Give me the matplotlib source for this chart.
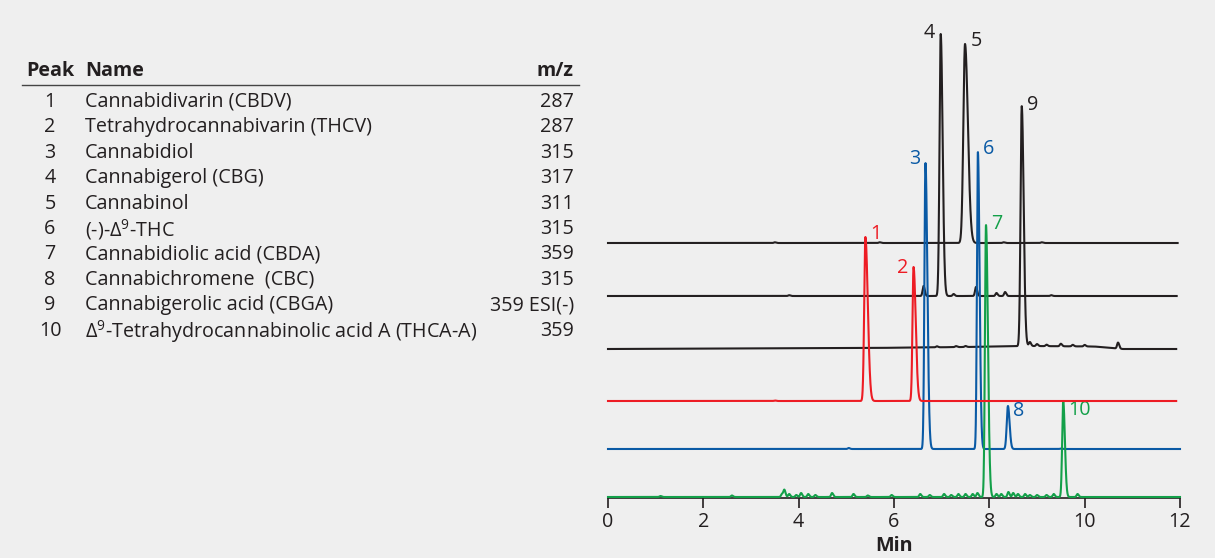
import numpy as np
import matplotlib
matplotlib.use("Agg")
import matplotlib.pyplot as plt
from matplotlib.lines import Line2D

plt.rcParams['font.family'] = ['Open Sans', 'DejaVu Sans']
plt.rcParams['mathtext.fontset'] = 'custom'
plt.rcParams['mathtext.rm'] = 'Open Sans'
plt.rcParams['mathtext.it'] = 'Open Sans:italic'
plt.rcParams['mathtext.bf'] = 'Open Sans:bold'

# ---------------- data ----------------
peak_nums = ["1", "2", "3", "4", "5", "6", "7", "8", "9", "10"]
peak_names = ["Cannabidivarin (CBDV)", "Tetrahydrocannabivarin (THCV)", "Cannabidiol",
              "Cannabigerol (CBG)", "Cannabinol", "(-)-Δ$^{9}$-THC", "Cannabidiolic acid (CBDA)",
              "Cannabichromene  (CBC)", "Cannabigerolic acid (CBGA)",
              "Δ$^{9}$-Tetrahydrocannabinolic acid A (THCA-A)"]
peak_mz = ["287", "287", "315", "317", "311", "315", "359", "315", "359 ESI(-)", "359"]

# traces: offset (baseline), main peaks (time, height, left sigma, right sigma), minor bumps
trace_colors = ["#231f20", "#231f20", "#231f20", "#ed1c24", "#0a5aa5", "#13a049"]
trace_offsets = [255, 202, 149, 97, 49, 1]
trace_end = [11.95, 11.93, 11.92, 11.92, 12.0, 12.0]

peaks_t1 = [(7.49, 199, 0.035, 0.06)]
peaks_t2 = [(6.98, 262, 0.025, 0.04)]
peaks_t3 = [(8.68, 240, 0.025, 0.04)]
peaks_red = [(5.40, 164, 0.025, 0.05), (6.41, 134, 0.022, 0.045)]
peaks_blue = [(6.66, 286, 0.022, 0.04), (7.76, 297, 0.02, 0.035), (8.39, 43, 0.025, 0.035)]
peaks_green = [(7.93, 272, 0.022, 0.04), (9.55, 96, 0.022, 0.035)]

bumps_t1 = [(3.5, 0.7), (5.7, 0.7), (8.3, 0.7), (9.1, 0.7)]
bumps_t2 = [(3.8, 0.8), (6.62, 10), (7.25, 2), (7.72, 9), (8.15, 3), (8.33, 4), (9.3, 0.8)]
bumps_t3 = [(6.9, 1), (7.3, 1), (7.5, 1), (8.85, 4), (9.0, 2), (9.2, 1.5), (9.5, 2.5),
            (9.75, 1.5), (10.0, 1.5), (10.7, 6)]
bumps_red = [(3.5, 0.5)]
bumps_blue = [(5.05, 1), (9.5, 0.5)]
bumps_green = [(1.1, 1), (2.6, 1.5), (3.65, 3), (3.7, 7), (3.8, 3), (3.95, 2), (4.05, 4),
               (4.2, 3), (4.35, 2), (4.7, 4), (5.15, 3), (5.45, 1.5), (5.95, 2), (6.55, 3),
               (6.75, 2), (7.05, 3), (7.2, 2), (7.35, 3), (7.5, 3), (7.65, 3), (7.75, 4),
               (8.15, 3), (8.25, 3), (8.4, 5), (8.5, 4), (8.6, 3), (8.75, 3), (8.85, 2),
               (9.0, 2), (9.2, 2), (9.35, 3), (9.85, 3)]

# baseline drift (time, level) for trace 3
drift_t3_t = [0, 5.5, 7.5, 8.8, 10.2, 10.8, 11.92]
drift_t3_v = [0, 1, 2, 3, 2.5, 0, 0]

trace_peaks = [peaks_t1, peaks_t2, peaks_t3, peaks_red, peaks_blue, peaks_green]
trace_bumps = [bumps_t1, bumps_t2, bumps_t3, bumps_red, bumps_blue, bumps_green]

labels = [("1", 5.50, 264, "#ed1c24", "left"), ("2", 6.30, 230, "#ed1c24", "right"),
          ("3", 6.56, 339, "#0a5aa5", "right"), ("4", 6.86, 465, "#231f20", "right"),
          ("5", 7.60, 457, "#231f20", "left"), ("6", 7.86, 349, "#0a5aa5", "left"),
          ("7", 8.03, 274, "#13a049", "left"), ("8", 8.50, 87, "#0a5aa5", "left"),
          ("9", 8.80, 393, "#231f20", "left"), ("10", 9.65, 88, "#13a049", "left")]

x_ticks = [0, 2, 4, 6, 8, 10, 12]

# ---------------- figure ----------------
W, H = 1215, 558
bg = "#efefef"
fig = plt.figure(figsize=(W / 100, H / 100), dpi=100, facecolor=bg)
ax = fig.add_axes([608 / W, 60 / H, 572 / W, 488 / H])
ax.set_facecolor(bg)


def shape(t, c, h, sl, sr):
    s = np.where(t < c, sl, sr)
    return h * np.exp(-0.5 * ((t - c) / s) ** 2)


for i in range(6):
    t = np.linspace(0, trace_end[i], 6000)
    y = np.full_like(t, float(trace_offsets[i]))
    for (c, h, sl, sr) in trace_peaks[i]:
        y += shape(t, c, h, sl, sr)
    for (c, h) in trace_bumps[i]:
        y += shape(t, c, h, 0.02, 0.025)
    if i == 2:
        y += np.interp(t, drift_t3_t, drift_t3_v)
    ax.plot(t, y, color=trace_colors[i], lw=1.5, solid_joinstyle="round", clip_on=False,
            zorder=3 + (1 if i in (3,) else 0))

fs = 14.2
for (txt, tx, ty, col, ha) in labels:
    ax.text(tx, ty, txt, color=col, fontsize=fs, ha=ha, va="center")

ax.set_xlim(0, 12)
ax.set_ylim(0, 488)
ax.set_xticks(x_ticks)
ax.set_xticklabels([str(v) for v in x_ticks])
ax.set_yticks([])
for s in ["left", "right", "top"]:
    ax.spines[s].set_visible(False)
ax.spines["bottom"].set_color("#231f20")
ax.spines["bottom"].set_linewidth(1.2)
ax.tick_params(axis="x", direction="out", length=7, width=1.2, color="#231f20",
               labelsize=fs, labelcolor="#231f20", pad=3)


# ---------------- table ----------------
def fx(px):
    return px / W


def fy(py):
    return 1 - py / H


tc = "#231f20"
fig.text(fx(894), fy(546), "Min", fontsize=fs, fontweight="bold", color=tc,
         va="center", ha="center")

fig.text(fx(26), fy(71), "Peak", fontsize=fs, fontweight="bold", color=tc, va="center", ha="left")
fig.text(fx(85), fy(71), "Name", fontsize=fs, fontweight="bold", color=tc, va="center", ha="left")
fig.text(fx(574), fy(71), "m/z", fontsize=fs, fontweight="bold", color=tc, va="center", ha="right")
fig.add_artist(Line2D([fx(22), fx(579)], [fy(84.5), fy(84.5)], color="#444444", lw=1.0))

row0, dy = 99.5, 25.4
for k in range(len(peak_nums)):
    yy = fy(row0 + k * dy)
    fig.text(fx(50), yy, peak_nums[k], fontsize=fs, color=tc, va="center_baseline", ha="center")
    fig.text(fx(85), yy, peak_names[k], fontsize=fs, color=tc, va="center_baseline", ha="left")
    fig.text(fx(574), yy, peak_mz[k], fontsize=fs, color=tc, va="center_baseline", ha="right")

fig.savefig("out.png", dpi=100, facecolor=bg)
